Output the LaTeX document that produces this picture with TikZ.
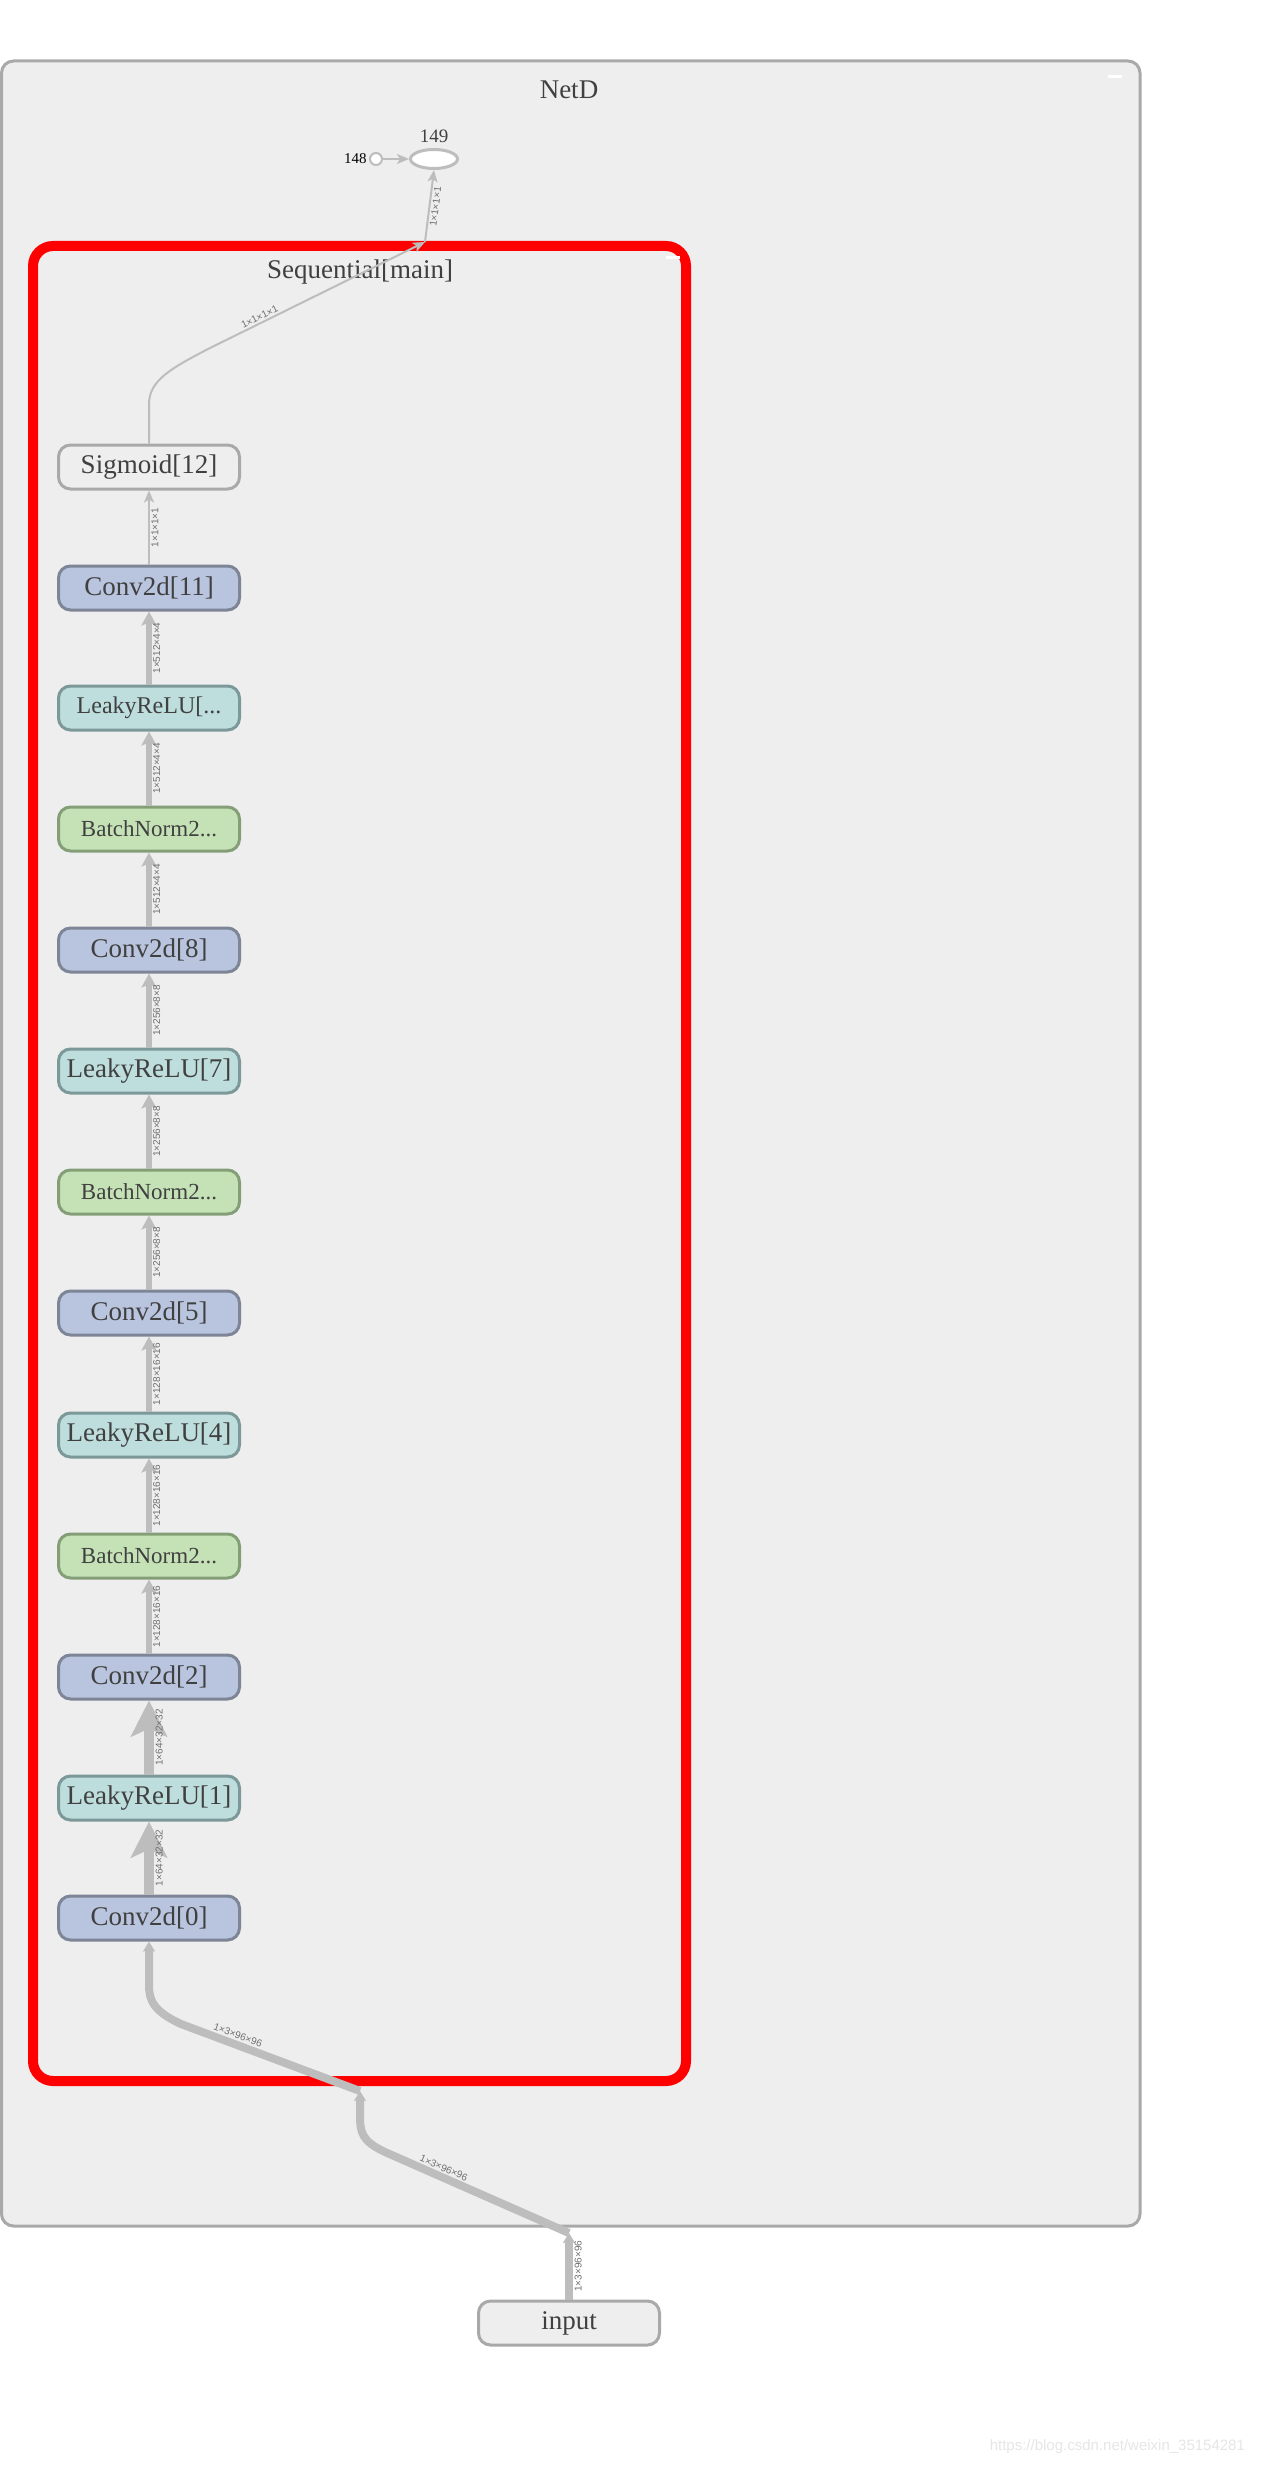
\documentclass[tikz,border=0pt]{standalone}
\usepackage{fontspec}
\setmainfont{Liberation Serif}
\setsansfont{Liberation Sans}
\usetikzlibrary{arrows.meta,positioning,shapes.geometric}
\definecolor{panelgray}{HTML}{EEEEEE}
\definecolor{panelline}{HTML}{A9A9A9}
\definecolor{flowgray}{HTML}{BDBDBD}
\definecolor{inktext}{HTML}{404040}
\definecolor{convfill}{HTML}{B9C5DE}
\definecolor{convline}{HTML}{7D8597}
\definecolor{relufill}{HTML}{BEDDDD}
\definecolor{reluline}{HTML}{7C9898}
\definecolor{bnfill}{HTML}{C5E2B6}
\definecolor{bnline}{HTML}{849F78}
\definecolor{selred}{HTML}{FF0000}
\definecolor{markgray}{HTML}{E6E6E6}
\tikzset{
  op/.style={draw, rounded corners=6pt, minimum width=90.5pt, minimum height=22pt,
    inner sep=0pt, line width=1.5pt, font=\fontsize{13.5}{14}\selectfont, text=inktext},
  convop/.style={op, draw=convline, fill=convfill},
  reluop/.style={op, draw=reluline, fill=relufill},
  bnop/.style={op, draw=bnline, fill=bnfill, font=\fontsize{11.5}{12}\selectfont},
  plainop/.style={op, draw=panelline, fill=panelgray},
  % connectors by tensor size
  thinflow/.style={-{Stealth[length=6pt,width=5pt,inset=1.5pt]}, line width=1pt, color=flowgray},
  midflow/.style={-{Stealth[length=7pt,width=7.5pt,inset=1.5pt]}, line width=2.6pt, color=flowgray},
  fatflow/.style={-{Stealth[length=18pt,width=18pt,inset=4pt]}, line width=5pt, color=flowgray},
  inflow/.style={-{Stealth[length=5pt,width=6pt,inset=1pt]}, line width=4pt, color=flowgray,
    line join=round},
  elab/.style={font=\sffamily\fontsize{5}{6}\selectfont, text=inktext!75, inner sep=0.8pt, sloped},
  boxtitle/.style={font=\fontsize{13.5}{14}\selectfont, text=inktext},
}
\begin{document}
\begin{tikzpicture}[x=0.5pt,y=-0.5pt]
  \fill[white] (0,0) rectangle (1260,2467);
  \useasboundingbox (0,0) rectangle (1260,2467);
  % outer graph and the selected group
  \draw[panelline, fill=panelgray, line width=1.5pt, rounded corners=6pt] (1.5,61) rectangle (1140,2226);
  \fill[white] (1108,75) rectangle (1122,78);
  \node[boxtitle] (netd) at (569,90) {NetD};
  \draw[selred, fill=panelgray, line width=5pt, rounded corners=10pt] (33,246) rectangle (686,2081);
  \fill[white] (666,256) rectangle (680,259);
  \node[boxtitle] (seqlab) at (360,272) {Sequential[main]};
  % layers
  \node[plainop] (sig12) at (149,467) {Sigmoid[12]};
  \node[convop] (conv11) at (149,588) {Conv2d[11]};
  \node[reluop, font=\fontsize{12}{13}\selectfont] (lrelu10) at (149,708) {LeakyReLU[...};
  \node[bnop] (bn9) at (149,829) {BatchNorm2...};
  \node[convop] (conv8) at (149,950) {Conv2d[8]};
  \node[reluop] (lrelu7) at (149,1071) {LeakyReLU[7]};
  \node[bnop] (bn6) at (149,1192) {BatchNorm2...};
  \node[convop] (conv5) at (149,1313) {Conv2d[5]};
  \node[reluop] (lrelu4) at (149,1435) {LeakyReLU[4]};
  \node[bnop] (bn3) at (149,1556) {BatchNorm2...};
  \node[convop] (conv2) at (149,1677) {Conv2d[2]};
  \node[reluop] (lrelu1) at (149,1798) {LeakyReLU[1]};
  \node[convop] (conv0) at (149,1918) {Conv2d[0]};
  \node[plainop] (input) at (569,2323) {input};
  % output pair
  \node[ellipse, draw=flowgray, fill=white, line width=1.5pt, minimum width=23.5pt,
    minimum height=9.5pt, inner sep=0pt,
    label={[font=\fontsize{9.5}{10}\selectfont, text=inktext, inner sep=2.5pt]above:149}] (n149) at (434,159) {};
  \node[circle, draw=flowgray, fill=white, line width=1pt, minimum size=6pt, inner sep=0pt,
    label={[font=\fontsize{7.5}{8}\selectfont, inner sep=1pt]left:148}] (n148) at (376,159) {};
  \coordinate (seqtop) at (425,242);
  \coordinate (netbot) at (569,2233);
  \coordinate (seqbot) at (360,2091);
  % connectors
  \foreach \a/\b/\s/\t in {conv11/sig12/thinflow/1×1×1×1, lrelu10/conv11/midflow/1×512×4×4,
      bn9/lrelu10/midflow/1×512×4×4, conv8/bn9/midflow/1×512×4×4,
      lrelu7/conv8/midflow/1×256×8×8, bn6/lrelu7/midflow/1×256×8×8,
      conv5/bn6/midflow/1×256×8×8, lrelu4/conv5/midflow/1×128×16×16,
      bn3/lrelu4/midflow/1×128×16×16, conv2/bn3/midflow/1×128×16×16,
      lrelu1/conv2/fatflow/1×64×32×32, conv0/lrelu1/fatflow/1×64×32×32} {
    \draw[\s] (\a.north) -- node[elab, below] {\t} (\b.south);
  }
  \draw[thinflow] (sig12.north) -- (149,404) .. controls (149,380) and (172,368) .. (208,349)
    -- node[elab, above, pos=0.25] {1×1×1×1} (seqtop);
  \draw[thinflow] (seqtop) -- node[elab, below] {1×1×1×1} (n149.south);
  \draw[thinflow] (n148) -- (n149);
  \draw[inflow] (input.north) -- node[elab, below] {1×3×96×96} (netbot);
  \draw[inflow] (netbot) -- node[elab, above, pos=0.7] {1×3×96×96} (385,2152)
    .. controls (362,2141) and (360,2133) .. (360,2115) -- (seqbot);
  \draw[inflow] (seqbot) -- node[elab, above, pos=0.7] {1×3×96×96} (181,2024)
    .. controls (153,2011) and (149,2000) .. (149,1985) -- (conv0.south);
  \node[font=\sffamily\fontsize{7.5}{8}\selectfont, text=markgray, anchor=east] (mark)
    at (1252,2447) {https://blog.csdn.net/weixin\_35154281};
\end{tikzpicture}
\end{document}
